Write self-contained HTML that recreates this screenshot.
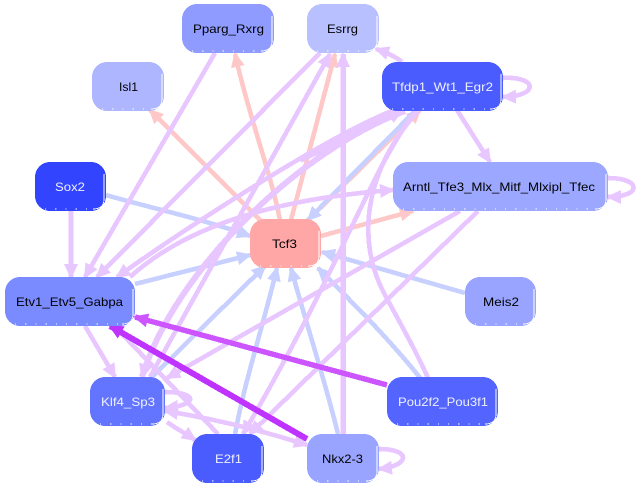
<!DOCTYPE html>
<html>
<head>
<meta charset="utf-8">
<style>
html,body{margin:0;padding:0;background:#fff;width:638px;height:489px;overflow:hidden}
svg{display:block}
text{font-family:"Liberation Sans",sans-serif;font-size:12px;text-anchor:start}
.e path{fill:none;stroke-width:4.6;shape-rendering:crispEdges}
.w{fill:none;stroke:#fff;stroke-width:.8;shape-rendering:crispEdges}
.d{fill:none;stroke:#fff;stroke-width:1.2;stroke-dasharray:1.2 9;shape-rendering:crispEdges}
.n{shape-rendering:crispEdges}
</style>
</head>
<body>
<svg width="638" height="489" viewBox="0 0 638 489" xmlns="http://www.w3.org/2000/svg">
<defs>
<marker id="ap" markerUnits="userSpaceOnUse" markerWidth="18" markerHeight="15" refX="13" refY="7" orient="auto"><path d="M0 0L15 7L0 14z" fill="#e8c6ff"/></marker>
<marker id="ab" markerUnits="userSpaceOnUse" markerWidth="18" markerHeight="15" refX="13" refY="7" orient="auto"><path d="M0 0L15 7L0 14z" fill="#c8d0ff"/></marker>
<marker id="ar" markerUnits="userSpaceOnUse" markerWidth="18" markerHeight="15" refX="13" refY="7" orient="auto"><path d="M0 0L15 7L0 14z" fill="#ffc8c8"/></marker>
<marker id="as" markerUnits="userSpaceOnUse" markerWidth="18" markerHeight="15" refX="13" refY="7" orient="auto"><path d="M0 0L15 7L0 14z" fill="#cc55ff"/></marker>
<marker id="at" markerUnits="userSpaceOnUse" markerWidth="18" markerHeight="15" refX="13" refY="7" orient="auto"><path d="M0 0L15 7L0 14z" fill="#bf33ff"/></marker>
</defs>

<g class="e" style="stroke:#ffc8c8">
<path marker-end="url(#ar)" d="M262 222L150 110"/>
<path marker-end="url(#ar)" d="M280 220C270 170 250 120 235 54"/>
<path marker-end="url(#ar)" d="M291 220L335 54"/>
<path marker-end="url(#ar)" d="M306 222L420 110"/>
<path marker-end="url(#ar)" d="M321 236L413 211"/>
</g>

<g class="e" style="stroke:#c8d0ff">
<path marker-end="url(#ab)" d="M106 195C150 208 200 218 250 236"/>
<path marker-end="url(#ab)" d="M135 284L250 255"/>
<path marker-end="url(#ab)" d="M152 377L265 266"/>
<path marker-end="url(#ab)" d="M235 434C245 380 262 330 277 268"/>
<path marker-end="url(#ab)" d="M338 434C325 380 305 320 291 268"/>
<path marker-end="url(#ab)" d="M421 379C390 340 355 305 318 268"/>
<path marker-end="url(#ab)" d="M465 293L322 252"/>
<path marker-end="url(#ab)" d="M415 111L308 220"/>
</g>

<g class="e" style="stroke:#e8c6ff">
<path marker-end="url(#ap)" d="M71 211L71 277"/>
<path marker-end="url(#ap)" d="M215 53L85 277"/>
<path marker-end="url(#ap)" d="M320 53L97 277"/>
<path marker-end="url(#ap)" d="M392 111C330 135 190 225 117 277"/>
<path marker-end="url(#ap)" d="M130 277C180 232 260 200 393 190"/>
<path marker-end="url(#ap)" style="stroke-width:6" d="M405 111C300 150 175 270 142 377"/>
<path marker-end="url(#ap)" d="M150 377L330 54"/>
<path marker-end="url(#ap)" style="stroke-width:5.5" d="M343 434L343 54"/>
<path marker-end="url(#ap)" d="M402 62C395 56 385 52 376 49"/>
<path marker-end="url(#ap)" d="M457 110L490 162"/>
<path d="M418 111C365 170 355 240 385 295S420 360 428 378"/>
<path marker-end="url(#ap)" d="M416 111C370 170 340 270 243 434"/>
<path marker-end="url(#ap)" d="M478 211L250 434"/>
<path marker-end="url(#ap)" d="M460 211L167 378"/>
<path d="M218 434L123 335"/>
<path marker-end="url(#ap)" d="M85 326L115 377"/>
<path marker-end="url(#ap)" d="M167 422C175 428 185 433 195 440"/>
<path marker-end="url(#ap)" d="M165 392C197 392 200 405 165 408"/>
<path marker-end="url(#ap)" d="M165 411C210 418 260 430 307 445"/>
<path marker-end="url(#ap)" d="M307 445C260 430 210 418 165 411"/>
<path marker-end="url(#ap)" d="M503 78C537 76 540 96 503 97"/>
<path marker-end="url(#ap)" d="M608 178C642 178 642 197 608 197"/>
<path marker-end="url(#ap)" d="M379 449C412 449 410 466 379 469"/>
<path marker-end="url(#ap)" style="stroke-width:6" d="M300 160L402 111"/>
</g>

<g class="e">
<path marker-end="url(#as)" style="stroke:#cc55ff;stroke-width:5.4" d="M387 385L135 317"/>
<path marker-end="url(#at)" style="stroke:#bf33ff;stroke-width:6" d="M307 439L110 326"/>
</g>

<!-- Nodes -->
<g class="n">
<rect x="182" y="4" width="92" height="49" rx="15" fill="#8f9bff"/>
<rect x="92" y="62" width="72" height="49" rx="15" fill="#aeb6ff"/>
<rect x="307" y="4" width="72" height="49" rx="15" fill="#b8c0ff"/>
<rect x="382" y="62" width="121" height="49" rx="15" fill="#4b5cff"/>
<rect x="393" y="162" width="215" height="49" rx="15" fill="#9ca7ff"/>
<rect x="35" y="162" width="71" height="49" rx="15" fill="#3344ff"/>
<rect x="250" y="219" width="71" height="49" rx="15" fill="#ffa6a6"/>
<rect x="5" y="277" width="130" height="49" rx="15" fill="#7a8aff"/>
<rect x="465" y="277" width="71" height="49" rx="15" fill="#98a4ff"/>
<rect x="90" y="377" width="75" height="49" rx="15" fill="#6375ff"/>
<rect x="387" y="377" width="111" height="49" rx="15" fill="#5364ff"/>
<rect x="192" y="434" width="72" height="49" rx="15" fill="#4b5cff"/>
<rect x="307" y="434" width="72" height="49" rx="15" fill="#98a4ff"/>
</g>

<!-- Inner periphery highlights -->
<path class="w" d="M272 16V41Q272 51 261 51"/>
<path class="w" d="M162 74V99Q162 109 151 109"/>
<path class="w" d="M377 16V41Q377 51 366 51"/>
<path class="w" d="M501 74V99Q501 109 490 109"/>
<path class="w" d="M606 174V199Q606 209 595 209"/>
<path class="w" d="M104 174V199Q104 209 93 209"/>
<path class="w" d="M319 231V256Q319 266 308 266"/>
<path class="w" d="M133 289V314Q133 324 122 324"/>
<path class="w" d="M534 289V314Q534 324 523 324"/>
<path class="w" d="M163 389V414Q163 424 152 424"/>
<path class="w" d="M496 389V414Q496 424 485 424"/>
<path class="w" d="M262 446V471Q262 481 251 481"/>
<path class="w" d="M377 446V471Q377 481 366 481"/>

<path class="d" d="M192 51H262"/>
<path class="d" d="M102 109H152"/>
<path class="d" d="M317 51H367"/>
<path class="d" d="M392 109H491"/>
<path class="d" d="M403 209H596"/>
<path class="d" d="M45 209H94"/>
<path class="d" d="M260 266H309"/>
<path class="d" d="M15 324H123"/>
<path class="d" d="M475 324H524"/>
<path class="d" d="M100 424H153"/>
<path class="d" d="M397 424H486"/>
<path class="d" d="M202 481H252"/>
<path class="d" d="M317 481H367"/>

<!-- Labels -->
<text x="193" y="33" textLength="71" lengthAdjust="spacingAndGlyphs" fill="#000">Pparg_Rxrg</text>
<text x="119" y="91" textLength="19" lengthAdjust="spacingAndGlyphs" fill="#000">Isl1</text>
<text x="327" y="33" textLength="31" lengthAdjust="spacingAndGlyphs" fill="#000">Esrrg</text>
<text x="392" y="91" textLength="101" lengthAdjust="spacingAndGlyphs" fill="#eef0ff">Tfdp1_Wt1_Egr2</text>
<text x="403" y="191" textLength="192" lengthAdjust="spacingAndGlyphs" fill="#000">Arntl_Tfe3_Mlx_Mitf_Mlxipl_Tfec</text>
<text x="55" y="191" textLength="30" lengthAdjust="spacingAndGlyphs" fill="#eef0ff">Sox2</text>
<text x="272" y="248" textLength="25" lengthAdjust="spacingAndGlyphs" fill="#000">Tcf3</text>
<text x="16" y="306" textLength="107" lengthAdjust="spacingAndGlyphs" fill="#000">Etv1_Etv5_Gabpa</text>
<text x="483" y="306" textLength="36" lengthAdjust="spacingAndGlyphs" fill="#000">Meis2</text>
<text x="101" y="406" textLength="54" lengthAdjust="spacingAndGlyphs" fill="#eef0ff">Klf4_Sp3</text>
<text x="398" y="406" textLength="90" lengthAdjust="spacingAndGlyphs" fill="#eef0ff">Pou2f2_Pou3f1</text>
<text x="215" y="463" textLength="27" lengthAdjust="spacingAndGlyphs" fill="#eef0ff">E2f1</text>
<text x="322" y="463" textLength="41" lengthAdjust="spacingAndGlyphs" fill="#000">Nkx2-3</text>
</svg>
</body>
</html>
